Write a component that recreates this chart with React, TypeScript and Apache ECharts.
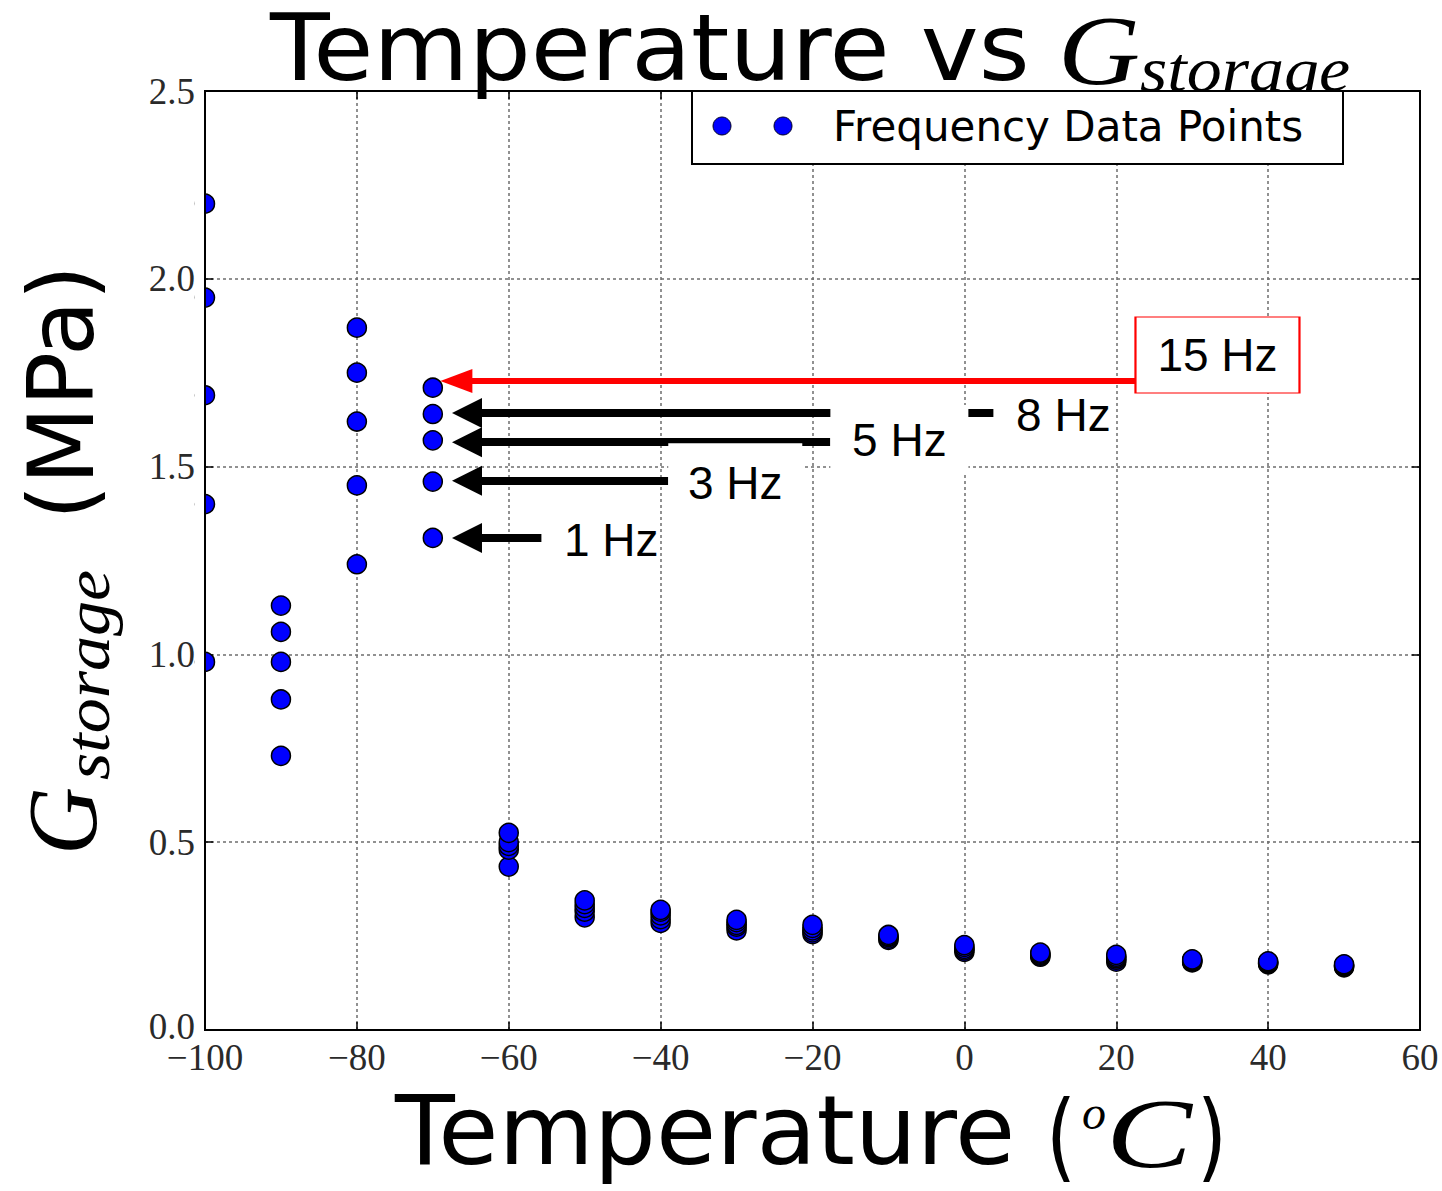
import React, { useEffect, useRef } from "react";
import * as echarts from "echarts";

// ---- data ----
const temperatures = [-100, -90, -80, -70, -60, -50, -40, -30, -20, -10, 0, 10, 20, 30, 40, 50];
const g1Hz = [0.98, 0.73, 1.24, 1.31, 0.435, 0.30, 0.285, 0.265, 0.255, 0.24, 0.208, 0.195, 0.182, 0.18, 0.175, 0.167];
const g3Hz = [1.40, 0.88, 1.45, 1.46, 0.48, 0.315, 0.295, 0.275, 0.26, 0.243, 0.212, 0.198, 0.187, 0.182, 0.177, 0.169];
const g5Hz = [1.69, 0.98, 1.62, 1.57, 0.49, 0.325, 0.305, 0.28, 0.265, 0.247, 0.216, 0.2, 0.191, 0.184, 0.179, 0.171];
const g8Hz = [1.95, 1.06, 1.75, 1.64, 0.50, 0.335, 0.315, 0.287, 0.272, 0.25, 0.221, 0.203, 0.195, 0.186, 0.181, 0.173];
const g15Hz = [2.20, 1.13, 1.87, 1.71, 0.525, 0.345, 0.32, 0.293, 0.28, 0.253, 0.226, 0.206, 0.2, 0.188, 0.183, 0.175];
const allFreqSeries = [g1Hz, g3Hz, g5Hz, g8Hz, g15Hz];

const xTicks = { min: -100, max: 60, interval: 20 };
const yTicks = { min: 0, max: 2.5, interval: 0.5 };

const seriesName = "Frequency Data Points";
const titleMain = "Temperature vs";
const titleG = "G";
const titleSub = "storage";

// annotation arrows: [label, y, startX, tipX]
const arrowLabels = ["15 Hz", "8 Hz", "5 Hz", "3 Hz", "1 Hz"];
const arrowY = [1.728, 1.643, 1.565, 1.462, 1.31];
const arrowStartX = [22.5, 3.82, -17.66, -39.0, -55.7];
const arrowTipX = [-66.9, -65.5, -65.5, -65.5, -65.5];
// label centres
const labelX = [33.33, 13.04, -8.56, -30.17, -46.5];
const labelY = [1.797, 1.637, 1.571, 1.456, 1.305];

function measure(text: string, font: string): number {
  const c = document.createElement("canvas").getContext("2d")!;
  c.font = font;
  return c.measureText(text).width || 1;
}

// text fitted to a target width; drawn at `size`, stretched vertically to `visualSize`
function fitText(
  text: string,
  family: string,
  size: number,
  style: string,
  x: number,
  y: number,
  width: number,
  z: number,
  visualSize?: number
): any {
  const font = `${style} ${size}px ${family}`;
  const w = measure(text, font);
  return {
    type: "text",
    x,
    y,
    scaleX: width / w,
    scaleY: visualSize ? visualSize / size : 1,
    z,
    silent: true,
    style: {
      text,
      x: 0,
      y: 0,
      font,
      lineHeight: Math.round(size * 0.75),
      fill: "#000",
      align: "left",
      verticalAlign: "middle",
    },
  };
}

export default function App() {
  const ref = useRef<HTMLDivElement>(null);

  useEffect(() => {
    if (!ref.current) return;
    const chart = echarts.init(ref.current, undefined, { renderer: "svg" });

    const points: number[][] = [];
    temperatures.forEach((t, i) => {
      allFreqSeries.forEach((s) => points.push([t, s[i]]));
    });

    const markLines = arrowLabels.map((lab, i) => {
      const red = i === 0;
      return [
        {
          coord: [arrowStartX[i], arrowY[i]],
          symbol: "none",
          lineStyle: { color: red ? "#ff0000" : "#000", width: red ? 6 : 8, type: "solid" },
        },
        {
          coord: [arrowTipX[i], arrowY[i]],
          symbol: "triangle",
          symbolSize: red ? [24, 32] : [30, 30],
        },
      ];
    });

    const boxSizes: any[] = [[164, 76], [110, 56], [138, 70], [134, 80], [110, 56]];
    const boxStyles: any[] = [
      { color: "#fff", borderColor: "#ff0000", borderWidth: 1.5 },
      { color: "rgba(255,255,255,0)" },
      { color: "#fff" },
      { color: "#fff" },
      { color: "rgba(255,255,255,0)" },
    ];
    const markPoints = arrowLabels.map((lab, i) => ({
      name: lab,
      coord: [labelX[i], labelY[i]],
      symbol: "rect",
      symbolSize: boxSizes[i],
      itemStyle: boxStyles[i],
      label: {
        show: true,
        position: "inside",
        formatter: "{b}",
        color: "#000",
        fontFamily: "Liberation Sans",
        fontSize: 46,
      },
    }));

    const gray = "#6e6e6e";
    const tickFont = "Liberation Serif";

    const option: any = {
      animation: false,
      backgroundColor: "#fff",
      grid: {
        left: 205,
        right: 22,
        top: 91,
        bottom: 161,
        show: true,
        borderColor: "#000",
        borderWidth: 2,
        backgroundColor: "rgba(0,0,0,0)",
      },
      xAxis: [
        {
          type: "value",
          min: xTicks.min,
          max: xTicks.max,
          interval: xTicks.interval,
          axisLine: { show: true, onZero: false, lineStyle: { color: "#000", width: 2 } },
          axisTick: { show: true, inside: true, length: 8, lineStyle: { color: "#000", width: 1.5 } },
          axisLabel: {
            margin: 14,
            fontFamily: tickFont,
            fontSize: 37,
            lineHeight: 26,
            color: "#2a2a2a",
            formatter: (v: number) => (v < 0 ? "\u2212" + Math.abs(v) : String(v)),
          },
          splitLine: { show: true, lineStyle: { color: gray, width: 1.5, type: [3, 3] } },
        },
        {
          type: "value",
          position: "top",
          min: xTicks.min,
          max: xTicks.max,
          interval: xTicks.interval,
          axisLine: { show: true, onZero: false, lineStyle: { color: "#000", width: 2 } },
          axisTick: { show: true, inside: true, length: 8, lineStyle: { color: "#000", width: 1.5 } },
          axisLabel: { show: false },
          splitLine: { show: false },
        },
      ],
      yAxis: [
        {
          type: "value",
          min: yTicks.min,
          max: yTicks.max,
          interval: yTicks.interval,
          axisLine: { show: true, onZero: false, lineStyle: { color: "#000", width: 2 } },
          axisTick: { show: true, inside: true, length: 8, lineStyle: { color: "#000", width: 1.5 } },
          axisLabel: {
            margin: 10,
            fontFamily: tickFont,
            fontSize: 37,
            lineHeight: 26,
            color: "#2a2a2a",
            formatter: (v: number) => (v === 0 ? "{low|0.0}" : v.toFixed(1)),
            rich: {
              low: {
                fontFamily: tickFont,
                fontSize: 37,
                lineHeight: 26,
                color: "#2a2a2a",
                padding: [0, 0, 8, 0],
              },
            },
          },
          splitLine: { show: true, lineStyle: { color: gray, width: 1.5, type: [3, 3] } },
        },
        {
          type: "value",
          position: "right",
          min: yTicks.min,
          max: yTicks.max,
          interval: yTicks.interval,
          axisLine: { show: true, onZero: false, lineStyle: { color: "#000", width: 2 } },
          axisTick: { show: true, inside: true, length: 8, lineStyle: { color: "#000", width: 1.5 } },
          axisLabel: { show: false },
          splitLine: { show: false },
        },
      ],
      series: [
        {
          name: seriesName,
          type: "scatter",
          xAxisIndex: 0,
          yAxisIndex: 0,
          data: points,
          symbol: "circle",
          symbolSize: 19,
          itemStyle: { color: "#0000ff", borderColor: "#000", borderWidth: 1.5, opacity: 1 },
          z: 3,
          markLine: {
            silent: true,
            z: 4,
            label: { show: false },
            emphasis: { disabled: true },
            data: markLines,
          },
          markPoint: {
            silent: true,
            z: 6,
            data: markPoints,
          },
        },
      ],
    };

    chart.setOption(option);

    // plot-area edges from the axes' own scales
    const [leftPx, topPx] = chart.convertToPixel({ gridIndex: 0 }, [xTicks.min, yTicks.max]) as number[];
    const [, bottomPx] = chart.convertToPixel({ gridIndex: 0 }, [xTicks.min, yTicks.min]) as number[];

    // Title (graphic, so sub-script and mixed fonts can be placed)
    const titleEls = [
      fitText(titleMain, '"DejaVu Sans"', 80, "normal", 270, 48, 760, 50, 93),
      fitText(titleG, '"Liberation Serif"', 84, "italic", 1058, 50, 82, 50, 100),
      fitText(titleSub, '"Liberation Serif"', 64, "italic", 1140, 70, 210, 50),
    ];

    // X axis name
    const xNameEls = [
      fitText("Temperature", '"DejaVu Sans"', 96, "normal", 395, 1131, 620, 50),
      fitText("(", '"DejaVu Sans"', 96, "normal", 1046, 1136, 30, 50),
      fitText("o", '"Liberation Serif"', 48, "italic", 1082, 1112, 24, 50),
      fitText("C", '"Liberation Serif"', 100, "italic", 1106, 1133, 86, 50),
      fitText(")", '"DejaVu Sans"', 96, "normal", 1197, 1136, 30, 50),
    ];

    // Y axis name (rotated group)
    const yNameGroup = {
      type: "group",
      x: 62,
      y: 855,
      rotation: Math.PI / 2,
      z: 50,
      children: [
        fitText("G", '"Liberation Serif"', 100, "italic", 0, 0, 68, 50),
        fitText("storage", '"Liberation Serif"', 64, "italic", 75, 26, 210, 50),
        fitText("(MPa)", '"DejaVu Sans"', 90, "normal", 335, 0, 255, 50),
      ],
    };

    // markers on the left edge are clipped by the axes frame, as in the reference
    const clipEls = [
      {
        type: "rect",
        z: 20,
        silent: true,
        shape: { x: leftPx - 10, y: topPx, width: 10, height: bottomPx - topPx },
        style: { fill: "#fff" },
      },
      {
        type: "line",
        z: 21,
        silent: true,
        shape: { x1: leftPx, y1: topPx, x2: leftPx, y2: bottomPx },
        style: { stroke: "#000", lineWidth: 2 },
      },
    ];

    // Legend (matplotlib style with two markers)
    const legendEls = [
      {
        type: "rect",
        z: 100,
        silent: true,
        shape: { x: 692, y: 91, width: 651, height: 73 },
        style: { fill: "#fff", stroke: "#000", lineWidth: 2 },
      },
      {
        type: "circle",
        z: 101,
        silent: true,
        shape: { cx: 722, cy: 126, r: 9 },
        style: { fill: "#0000ff", stroke: "#000020", lineWidth: 1 },
      },
      {
        type: "circle",
        z: 101,
        silent: true,
        shape: { cx: 783, cy: 126, r: 9 },
        style: { fill: "#0000ff", stroke: "#000020", lineWidth: 1 },
      },
      {
        type: "text",
        z: 101,
        silent: true,
        x: 833,
        y: 126,
        style: {
          text: seriesName,
          font: 'normal 42px "DejaVu Sans"',
          fill: "#000",
          align: "left",
          verticalAlign: "middle",
        },
      },
    ];

    chart.setOption({
      graphic: { elements: [...titleEls, ...xNameEls, yNameGroup, ...clipEls, ...legendEls] },
    });
    return () => chart.dispose();
  }, []);

  return (
    <div
      ref={ref}
      style={{ position: "fixed", left: 0, top: 0, width: 1442, height: 1191, background: "#fff" }}
    />
  );
}
